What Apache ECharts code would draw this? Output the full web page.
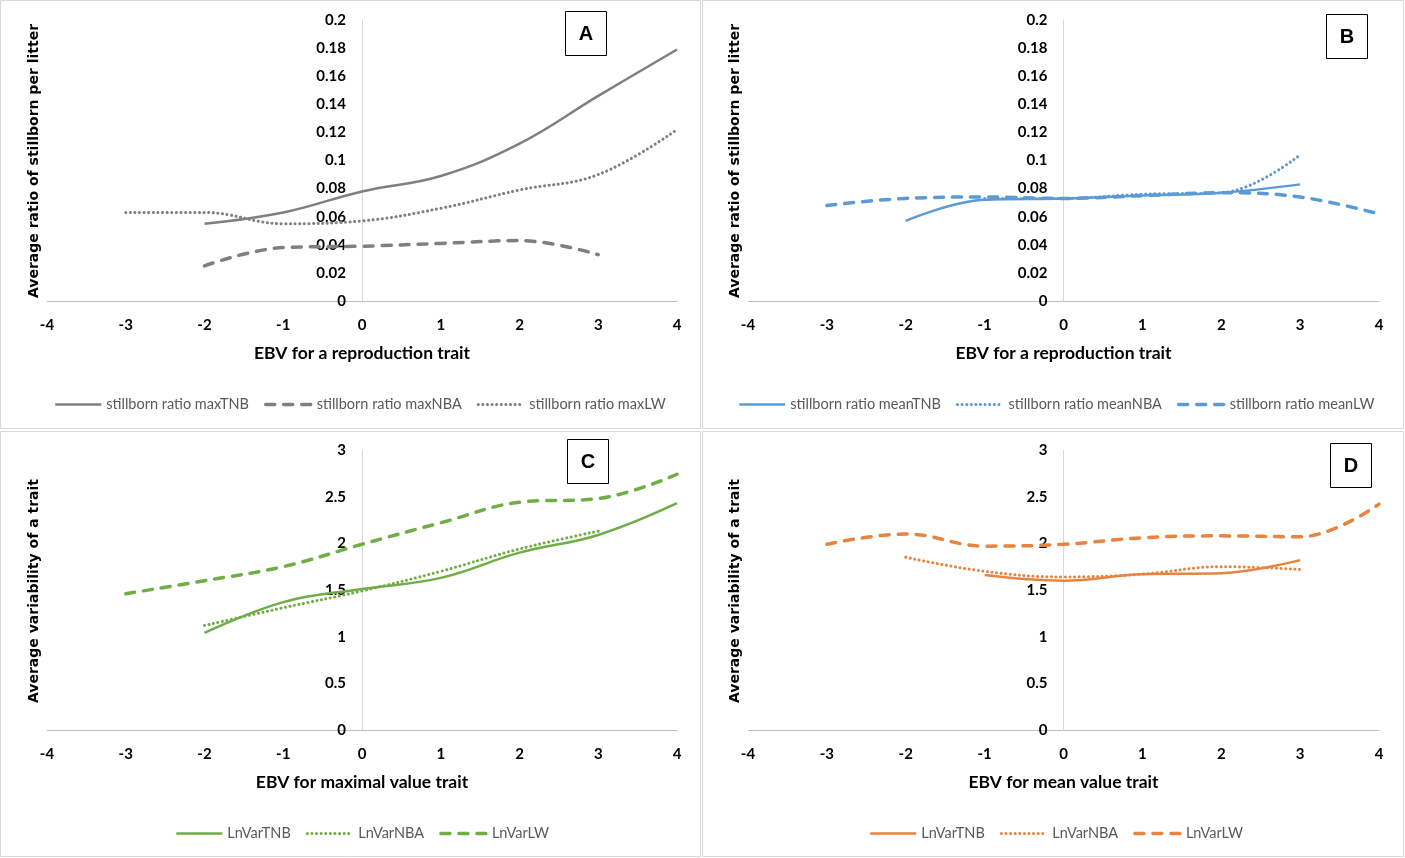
<!DOCTYPE html>
<html>
<head>
<meta charset="utf-8">
<script src="https://cdn.jsdelivr.net/npm/echarts@6/dist/echarts.min.js"></script>
<style>html,body{margin:0;padding:0;background:#fff}#c{width:1405px;height:858px}</style>
</head>
<body>
<div id="c"></div>
<script>
// EBV points (x positions of the data)
const ebv = [-3, -2, -1, 0, 1, 2, 3, 4];
const xTicks = [-4, -3, -2, -1, 0, 1, 2, 3, 4];

// Panel A
const maxTNB = [null, 0.055, 0.063, 0.078, 0.089, 0.112, 0.146, 0.179];
const maxNBA = [null, 0.025, 0.038, 0.039, 0.041, 0.043, 0.033, null];
const maxLW  = [0.063, 0.063, 0.055, 0.057, 0.066, 0.079, 0.090, 0.122];
// Panel B
const meanTNB = [null, 0.057, 0.072, 0.073, 0.075, 0.077, 0.083, null];
const meanNBA = [null, null, 0.073, 0.073, 0.076, 0.077, 0.104, null];
const meanLW  = [0.068, 0.073, 0.074, 0.073, 0.075, 0.077, 0.074, 0.062];
// Panel C
const cTNB = [null, 1.04, 1.37, 1.51, 1.63, 1.90, 2.09, 2.43];
const cNBA = [null, 1.12, 1.31, 1.49, 1.70, 1.94, 2.13, null];
const cLW  = [1.46, 1.60, 1.75, 1.99, 2.22, 2.44, 2.48, 2.74];
// Panel D
const dTNB = [null, null, 1.66, 1.60, 1.67, 1.68, 1.82, null];
const dNBA = [null, 1.85, 1.70, 1.64, 1.67, 1.75, 1.72, null];
const dLW  = [1.99, 2.10, 1.97, 1.99, 2.06, 2.08, 2.07, 2.42];

const legendA = ['stillborn ratio maxTNB', 'stillborn ratio maxNBA', 'stillborn ratio maxLW'];
const legendB = ['stillborn ratio meanTNB', 'stillborn ratio meanNBA', 'stillborn ratio meanLW'];
const legendCD = ['LnVarTNB', 'LnVarNBA', 'LnVarLW'];
const xTitles = ['EBV for a reproduction trait', 'EBV for a reproduction trait', 'EBV for maximal value trait', 'EBV for mean value trait'];
const yTitles = ['Average ratio of stillborn per litter', 'Average ratio of stillborn per litter', 'Average variability of a trait', 'Average variability of a trait'];
const panelLetters = ['A', 'B', 'C', 'D'];

function pairs(vals) {
  const out = [];
  vals.forEach((v, i) => { if (v !== null) out.push([ebv[i], v]); });
  return out;
}

const colors = ['#7f7f7f', '#5b9bd5', '#70ad47', '#e8843f'];
const grids = [
  {left: 47, top: 20, width: 630, height: 281},
  {left: 748, top: 20, width: 631, height: 281},
  {left: 47, top: 450, width: 630, height: 280},
  {left: 748, top: 450, width: 631, height: 280}
];
const yRanges = [[0, 0.2, 0.02], [0, 0.2, 0.02], [0, 3, 0.5], [0, 3, 0.5]];

const tickFont = {fontFamily: 'Lato', fontWeight: 'bold', fontSize: 15, color: '#000'};

const styles = {
  solid: {width: 2.5, type: 'solid'},
  dash: {width: 3.5, type: [9, 9], cap: 'round'},
  dot: {width: 3, type: [0.1, 4.5], cap: 'round'}
};

const panelSeries = [
  [[legendA[0], maxTNB, 'solid'], [legendA[1], maxNBA, 'dash'], [legendA[2], maxLW, 'dot']],
  [[legendB[0], meanTNB, 'solid'], [legendB[1], meanNBA, 'dot'], [legendB[2], meanLW, 'dash']],
  [[legendCD[0], cTNB, 'solid'], [legendCD[1], cNBA, 'dot'], [legendCD[2], cLW, 'dash']],
  [[legendCD[0], dTNB, 'solid'], [legendCD[1], dNBA, 'dot'], [legendCD[2], dLW, 'dash']]
];

const xAxes = [], yAxes = [], series = [], legends = [];
grids.forEach((g, p) => {
  xAxes.push({
    type: 'value', gridIndex: p, min: -4, max: 4, interval: 1,
    splitLine: {show: false}, axisTick: {show: false},
    axisLine: {show: true, lineStyle: {color: '#bfbfbf', width: 1}},
    axisLabel: Object.assign({margin: 17}, tickFont),
    name: xTitles[p], nameLocation: 'middle', nameGap: 43,
    nameTextStyle: {fontFamily: 'Lato', fontWeight: 'bold', fontSize: 17.5, color: '#000'}
  });
  yAxes.push({
    type: 'value', gridIndex: p, min: yRanges[p][0], max: yRanges[p][1], interval: yRanges[p][2],
    position: 'left', offset: -g.width / 2,
    splitLine: {show: false}, axisTick: {show: false},
    axisLine: {show: true, onZero: false, lineStyle: {color: '#d9d9d9', width: 1}},
    axisLabel: Object.assign({margin: 16}, tickFont)
  });
  const items = [];
  panelSeries[p].forEach(([nm, vals, st]) => {
    const id = panelLetters[p] + '|' + nm;
    items.push({name: id, lineStyle: Object.assign({color: colors[p]}, styles[st])});
    series.push({
      type: 'line', name: id, xAxisIndex: p, yAxisIndex: p,
      data: pairs(vals), smooth: 0.4, showSymbol: false, symbol: 'none',
      color: colors[p],
      lineStyle: Object.assign({color: colors[p]}, styles[st]),
      emphasis: {disabled: true}, silent: true, animation: false
    });
  });
  legends.push({
    data: items, left: 0, top: g.top + g.height + 91,
    orient: 'horizontal', itemWidth: 46, itemHeight: 10, itemGap: 15,
    formatter: n => n.split('|')[1],
    itemStyle: {opacity: 0},
    textStyle: {fontFamily: 'Lato', fontSize: 14.5, color: '#595959'},
    selectedMode: false
  });
});

const graphics = [];
const panels = [[0, 0, 701, 429], [702, 0, 702, 429], [0, 431, 701, 426], [702, 431, 702, 426]];
panels.forEach(r => graphics.push({type: 'rect', shape: {x: r[0] + 0.5, y: r[1] + 0.5, width: r[2] - 1, height: r[3] - 1}, style: {fill: 'none', stroke: '#d9d9d9', lineWidth: 1}, silent: true}));
const boxes = [[565, 11], [1326, 14], [567, 439], [1330, 443]];
boxes.forEach((b, p) => {
  graphics.push({type: 'rect', shape: {x: b[0] + 0.5, y: b[1] + 0.5, width: 41, height: 44}, style: {fill: '#fff', stroke: '#000', lineWidth: 1}, silent: true});
  graphics.push({type: 'text', x: b[0] + 21, y: b[1] + 23, style: {text: panelLetters[p], fontFamily: 'Liberation Sans', fontWeight: 'bold', fontSize: 20, fill: '#000', align: 'center', verticalAlign: 'middle'}, silent: true});
});
const yTitlePos = [[34, 161], [735, 161], [34, 591], [735, 591]];
yTitlePos.forEach((q, p) => {
  graphics.push({type: 'text', x: q[0], y: q[1], rotation: Math.PI / 2, style: {text: yTitles[p], fontFamily: 'DejaVu Sans', fontWeight: 'bold', fontSize: 14, fill: '#000', align: 'center', verticalAlign: 'middle'}, silent: true});
});

const chart = echarts.init(document.getElementById('c'), null, {renderer: 'canvas'});
const legendCenters = [360, 1056, 362, 1056];
chart.setOption({
  animation: false,
  backgroundColor: '#fff',
  grid: grids.map(g => Object.assign({outerBoundsMode: 'none', containLabel: false}, g)),
  xAxis: xAxes, yAxis: yAxes, series: series,
  legend: legends,
  graphic: graphics
});
// center each legend horizontally around its panel's plot center
const newLegends = legends.map((l, p) => {
  const view = chart._componentsViews ? chart._componentsViews.find(v => v.__model && v.__model.mainType === 'legend' && v.__model.componentIndex === p) : null;
  let w = 0;
  if (view && view.group) { const r = view.group.getBoundingRect(); w = r.width; }
  return {left: Math.round(legendCenters[p] - w / 2)};
});
chart.setOption({legend: newLegends});
</script>
</body>
</html>
